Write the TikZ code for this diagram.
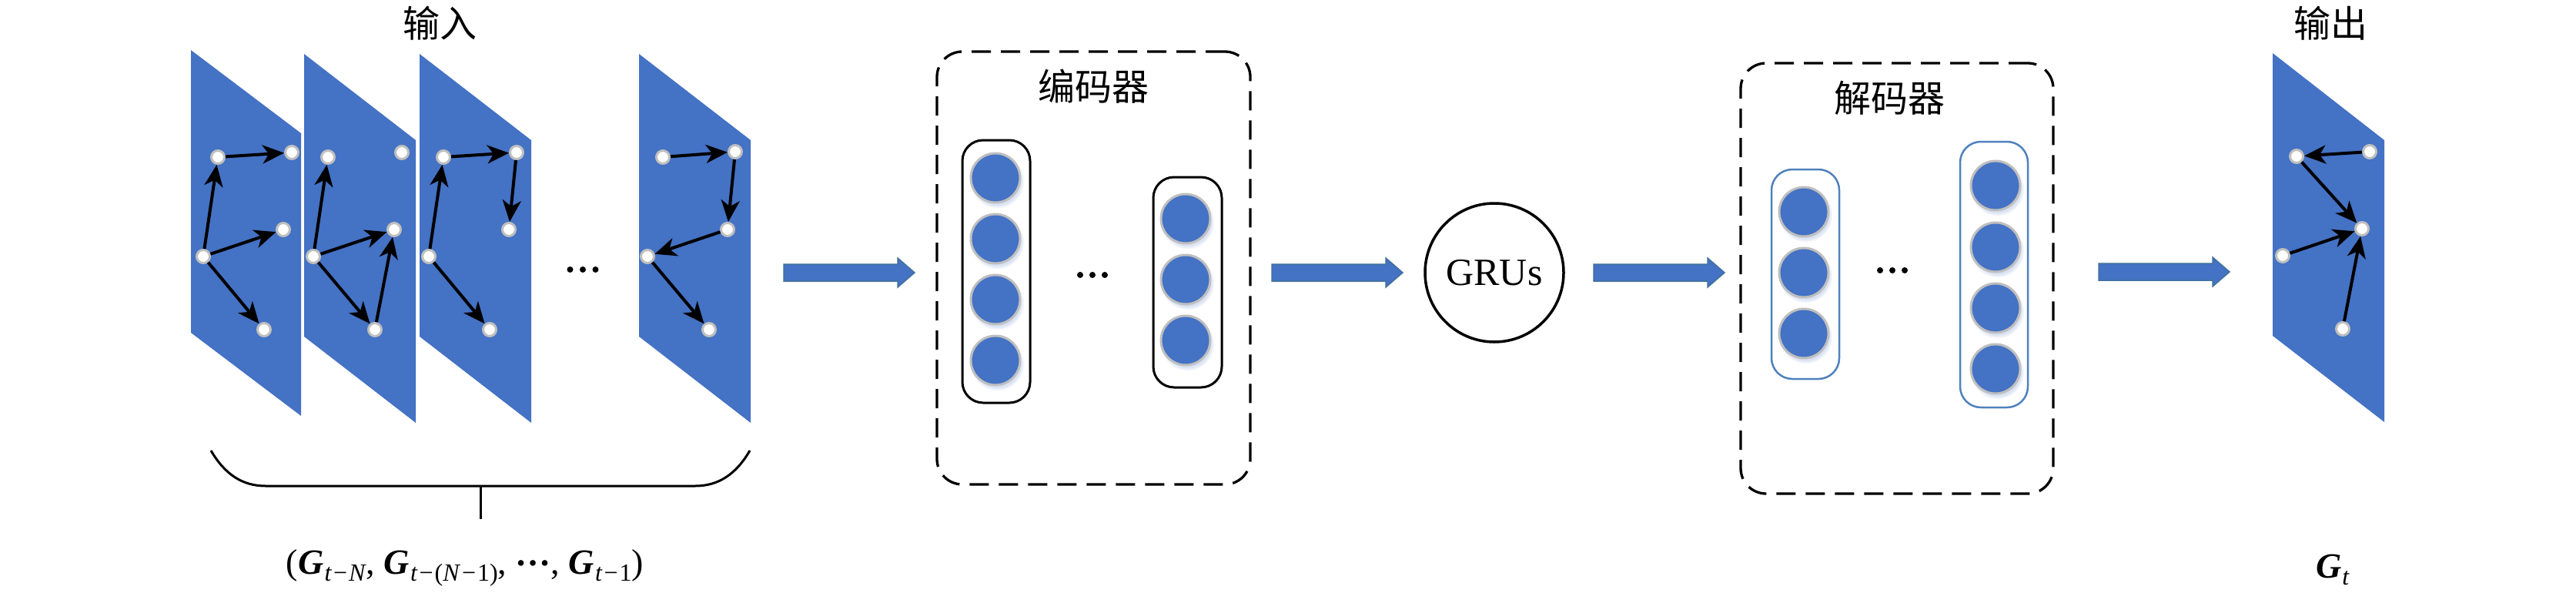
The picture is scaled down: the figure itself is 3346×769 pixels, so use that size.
\documentclass[tikz,border=0pt]{standalone}
\usepackage{fontspec}
\setmainfont{Liberation Serif}
\newfontfamily\cjk{Noto Sans CJK SC}
\usetikzlibrary{arrows.meta,calc,shadows}
\definecolor{pblue}{HTML}{4472C4}
\definecolor{pborder}{HTML}{41719C}
\definecolor{ring}{HTML}{BFBFBF}
\definecolor{capblue}{HTML}{4F81BD}
\definecolor{shadowc}{HTML}{D9E2F3}
\newcommand\Gsub[1]{\textbf{\textit{G}}\kern1pt\raisebox{-9pt}{\fontsize{32}{32}\selectfont #1}}
\newcommand\mminus{\kern2pt−\kern2pt}
\newcommand\myblockarrow[2]{%
  \fill[pblue,draw=pborder,line width=1.5pt] ($(#1)+(0,-11)$) -- ($(#2)+(-22,-11)$) -- ($(#2)+(-22,-19)$) -- (#2) -- ($(#2)+(-22,19)$) -- ($(#2)+(-22,11)$) -- ($(#1)+(0,11)$) -- cycle;}
\begin{document}
\begin{tikzpicture}[x=1pt,y=-1pt,
  gnode/.style={circle,draw=ring,line width=3pt,fill=white,minimum size=17pt,inner sep=0pt},
  gedge/.style={line width=4pt,-{Stealth[length=28pt,width=24pt,inset=8pt]}},
  bcirc/.style={circle,fill=pblue,draw=ring,line width=3pt,minimum size=64pt,inner sep=0pt,
    circular drop shadow={shadow xshift=2pt,shadow yshift=-4pt,fill=shadowc,opacity=1}},
  capsule/.style={draw=black,line width=3pt,rounded corners=27pt,inner sep=0pt},
  dcapsule/.style={draw=capblue,line width=2.5pt,rounded corners=27pt,inner sep=0pt},
  dbox/.style={draw=black,line width=3.3pt,dash pattern=on 25pt off 13pt,rounded corners=33pt,inner sep=0pt},
  cjktitle/.style={font=\cjk\fontsize{48}{48}\selectfont,inner sep=0pt},
  mathlabel/.style={font=\fontsize{46}{46}\selectfont,inner sep=0pt,anchor=base},
  panel/.style={fill=pblue}
]
\useasboundingbox (0,0) rectangle (3346,769);

% ---------- input panels ----------
\fill[panel] (248,65) -- (391,173) -- (391,540) -- (248,432) -- cycle;
\fill[panel] (395,70) -- (540,182) -- (540,549) -- (395,437) -- cycle;
\fill[panel] (545,70) -- (690,182) -- (690,549) -- (545,437) -- cycle;
\fill[panel] (830,70) -- (975,182) -- (975,549) -- (830,437) -- cycle;
% output panel
\fill[panel] (2952,69) -- (3097,182) -- (3097,548) -- (2952,436) -- cycle;

% panel 1
\node[gnode] (p1a) at (283,204) {};
\node[gnode] (p1b) at (379,198) {};
\node[gnode] (p1c) at (264,333) {};
\node[gnode] (p1d) at (368,298) {};
\node[gnode] (p1e) at (343,428) {};
\draw[gedge] (p1c) -- (p1a);
\draw[gedge] (p1a) -- (p1b);
\draw[gedge] (p1c) -- (p1d);
\draw[gedge] (p1c) -- (p1e);
% panel 2
\node[gnode] (p2a) at (426,204) {};
\node[gnode] (p2b) at (522,198) {};
\node[gnode] (p2c) at (407,333) {};
\node[gnode] (p2d) at (512,298) {};
\node[gnode] (p2e) at (487,428) {};
\draw[gedge] (p2c) -- (p2a);
\draw[gedge] (p2c) -- (p2d);
\draw[gedge] (p2c) -- (p2e);
\draw[gedge] (p2e) -- (p2d);
% panel 3
\node[gnode] (p3a) at (576,204) {};
\node[gnode] (p3b) at (671,198) {};
\node[gnode] (p3c) at (557,333) {};
\node[gnode] (p3d) at (661,298) {};
\node[gnode] (p3e) at (636,428) {};
\draw[gedge] (p3c) -- (p3a);
\draw[gedge] (p3a) -- (p3b);
\draw[gedge] (p3b) -- (p3d);
\draw[gedge] (p3c) -- (p3e);
% last input panel
\node[gnode] (p4a) at (861,204) {};
\node[gnode] (p4b) at (955,197) {};
\node[gnode] (p4d) at (945,298) {};
\node[gnode] (p4c) at (841,333) {};
\node[gnode] (p4e) at (921,428) {};
\draw[gedge] (p4a) -- (p4b);
\draw[gedge] (p4b) -- (p4d);
\draw[gedge] (p4d) -- (p4c);
\draw[gedge] (p4c) -- (p4e);
% output panel
\node[gnode] (poa) at (2983,203) {};
\node[gnode] (pob) at (3078,197) {};
\node[gnode] (pod) at (3068,297) {};
\node[gnode] (poc) at (2965,332) {};
\node[gnode] (poe) at (3043,427) {};
\draw[gedge] (pob) -- (poa);
\draw[gedge] (poa) -- (pod);
\draw[gedge] (poc) -- (pod);
\draw[gedge] (poe) -- (pod);

% dots between panels
\foreach \dx in {-16.5,0,16.5} \fill ($(757,350)+(\dx,0)$) circle (4);

% titles
\node[cjktitle] (tin) at (571,30) {输入};
\node[cjktitle] (tout) at (3027,30) {输出};

% ---------- encoder ----------
\node[dbox,minimum width=407pt,minimum height=562pt] (enc) at (1420.5,348) {};
\node[cjktitle] (enct) at (1420,112) {编码器};
\node[capsule,minimum width=88pt,minimum height=341pt] (ecap1) at (1294,352.5) {};
\node[capsule,minimum width=89pt,minimum height=273pt] (ecap2) at (1542.5,366.5) {};
\node[bcirc] (e11) at (1293,231) {};
\node[bcirc] (e12) at (1293,310) {};
\node[bcirc] (e13) at (1293,389) {};
\node[bcirc] (e14) at (1293,468) {};
\node[bcirc] (e21) at (1540,284) {};
\node[bcirc] (e22) at (1540,363) {};
\node[bcirc] (e23) at (1540,442) {};
\foreach \dx in {-16,0,16} \fill ($(1419,357)+(\dx,0)$) circle (4);

% ---------- GRUs ----------
\node[circle,draw=black,line width=3.5pt,minimum size=180pt,inner sep=0pt,font=\fontsize{50}{50}\selectfont] (gru) at (1941,354) {GRUs};

% ---------- decoder ----------
\node[dbox,minimum width=406pt,minimum height=559pt] (dec) at (2464,361.5) {};
\node[cjktitle] (dect) at (2454,127) {解码器};
\node[dcapsule,minimum width=88pt,minimum height=272pt] (dcap1) at (2345,356) {};
\node[dcapsule,minimum width=88pt,minimum height=345pt] (dcap2) at (2590,356.5) {};
\node[bcirc] (d11) at (2343,275) {};
\node[bcirc] (d12) at (2343,354) {};
\node[bcirc] (d13) at (2343,433) {};
\node[bcirc] (d21) at (2592,241) {};
\node[bcirc] (d22) at (2592,321) {};
\node[bcirc] (d23) at (2592,400) {};
\node[bcirc] (d24) at (2592,479) {};
\foreach \dx in {-16,0,16} \fill ($(2458,351)+(\dx,0)$) circle (4);

% ---------- block arrows ----------
\coordinate (a1s) at (1018,354); \coordinate (a1e) at (1188,354);
\coordinate (a2s) at (1652,354); \coordinate (a2e) at (1822,354);
\coordinate (a3s) at (2070,354); \coordinate (a3e) at (2240,354);
\coordinate (a4s) at (2726,353); \coordinate (a4e) at (2896,353);
\myblockarrow{a1s}{a1e}
\myblockarrow{a2s}{a2e}
\myblockarrow{a3s}{a3e}
\myblockarrow{a4s}{a4e}

% ---------- brace and labels ----------
\coordinate (brl) at (274,585);
\coordinate (brr) at (974,585);
\coordinate (brm) at (624,631);
\coordinate (brs) at (624,674);
\draw[line width=3pt] (brl) .. controls (292,616) and (315,631) .. (345,631) -- (903,631) .. controls (933,631) and (956,616) .. (brr);
\draw[line width=3pt] (brm) -- (brs);
\node[mathlabel] (tuple) at (604,745) {(\Gsub{\textit{t}\mminus\textit{N}}, \Gsub{\textit{t}\mminus(\textit{N}\mminus1)}, \raisebox{11pt}{\textbf{…}}, \Gsub{\textit{t}\mminus1})};
\node[mathlabel] (gt) at (3030,750) {\Gsub{\textit{t}}};
\end{tikzpicture}
\end{document}
